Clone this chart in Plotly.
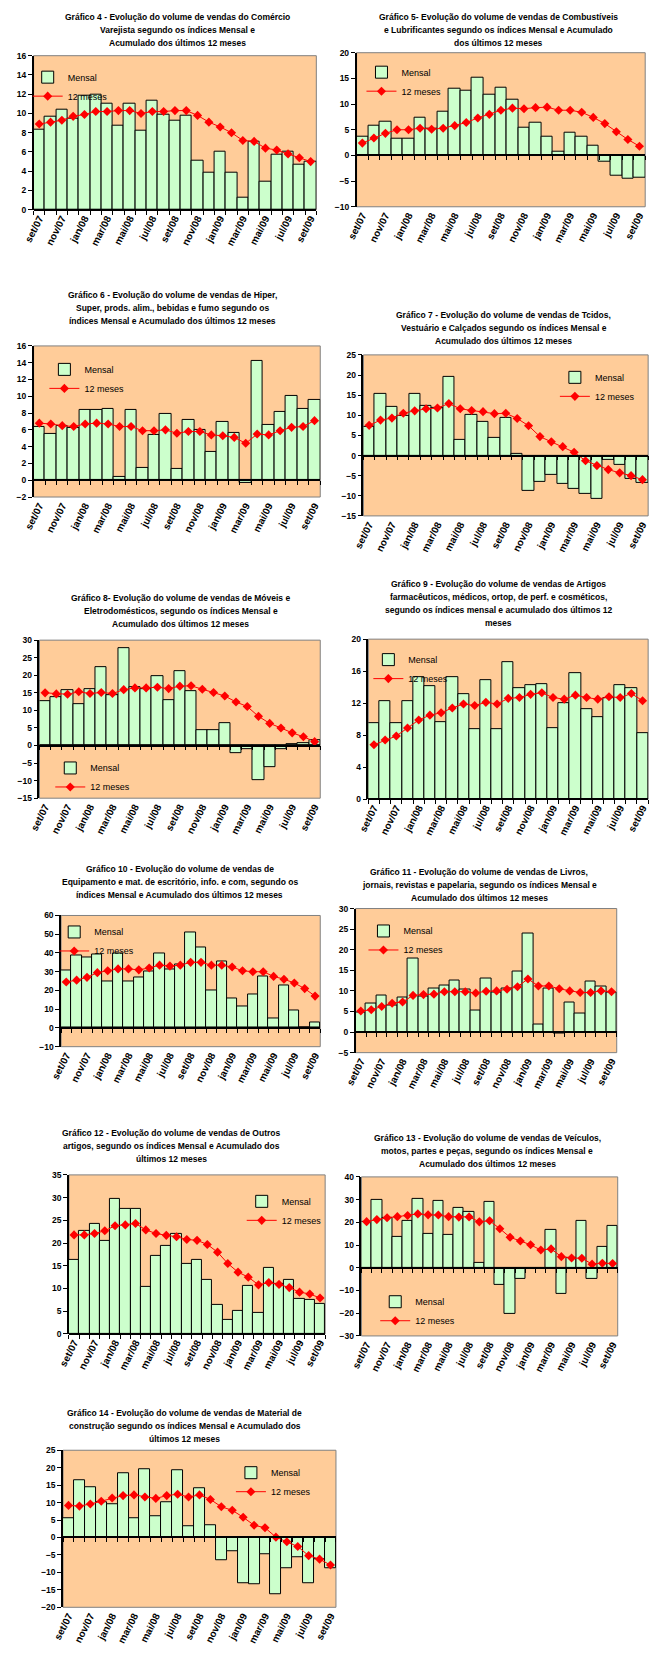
import plotly.graph_objects as go

W, H = 657, 1659

months = ["set/07", "out/07", "nov/07", "dez/07", "jan/08", "fev/08", "mar/08", "abr/08",
          "mai/08", "jun/08", "jul/08", "ago/08", "set/08", "out/08", "nov/08", "dez/08",
          "jan/09", "fev/09", "mar/09", "abr/09", "mai/09", "jun/09", "jul/09", "ago/09", "set/09"]
tick_labels = months[::2]

mensal_g4 = [8.3, 9.7, 10.4, 9.5, 11.8, 12.0, 11.0, 8.7, 11.0, 8.2, 11.3, 9.9, 9.3, 9.8, 5.1, 3.8, 6.0, 3.8, 1.3, 7.1, 2.9, 5.7, 6.0, 4.7, 5.0]
meses12_g4 = [8.9, 9.1, 9.3, 9.7, 9.9, 10.2, 10.2, 10.3, 10.3, 10.0, 10.2, 10.2, 10.3, 10.3, 9.8, 9.1, 8.6, 8.0, 7.2, 7.1, 6.4, 6.2, 5.8, 5.4, 5.0]

mensal_g5 = [3.7, 5.8, 6.6, 3.2, 3.2, 7.3, 5.2, 8.5, 13.0, 12.6, 15.2, 11.9, 13.2, 10.9, 5.3, 6.4, 3.7, 0.7, 4.5, 3.7, 1.8, -1.3, -3.9, -4.5, -4.3]
meses12_g5 = [2.4, 3.4, 4.3, 5.0, 5.0, 5.3, 5.1, 5.3, 5.8, 6.4, 7.3, 8.0, 8.8, 9.2, 9.1, 9.3, 9.4, 8.8, 8.8, 8.4, 7.4, 6.2, 4.6, 3.1, 1.8]

mensal_g6 = [6.3, 5.5, 6.5, 6.2, 8.4, 8.4, 8.5, 0.4, 8.4, 1.5, 5.4, 7.9, 1.3, 7.2, 6.0, 3.4, 7.0, 5.6, -0.3, 14.2, 6.6, 8.1, 10.1, 8.5, 9.6]
meses12_g6 = [6.8, 6.7, 6.5, 6.4, 6.7, 6.8, 6.7, 6.4, 6.4, 5.9, 5.9, 6.0, 5.6, 5.8, 5.8, 5.4, 5.3, 5.1, 4.4, 5.5, 5.4, 5.9, 6.3, 6.4, 7.1]

mensal_g7 = [7.0, 15.3, 12.1, 9.8, 15.3, 12.4, 11.8, 19.6, 3.8, 10.2, 8.4, 4.3, 9.3, 0.3, -8.8, -6.5, -4.8, -7.0, -8.4, -9.6, -10.8, -1.0, -2.2, -5.8, -6.8]
meses12_g7 = [7.5, 8.8, 9.3, 10.5, 11.1, 11.6, 11.8, 12.9, 11.6, 11.2, 10.9, 10.4, 10.5, 9.2, 7.4, 4.7, 3.4, 2.2, 0.8, -1.3, -2.5, -3.5, -4.3, -5.0, -6.0]

mensal_g8 = [12.7, 13.8, 15.7, 11.8, 16.0, 22.3, 14.3, 27.8, 16.5, 16.0, 19.8, 13.0, 21.2, 15.6, 4.4, 4.4, 6.3, -2.1, -0.9, -9.8, -6.1, -1.0, 0.3, 0.6, 1.4]
meses12_g8 = [15.0, 14.7, 14.6, 15.3, 14.8, 15.1, 14.8, 15.9, 16.4, 16.4, 16.6, 16.2, 16.9, 17.0, 16.0, 15.1, 14.1, 12.4, 11.1, 8.3, 6.3, 5.0, 3.6, 2.5, 1.1]

mensal_g9 = [9.5, 12.2, 9.5, 12.3, 15.3, 14.1, 9.6, 15.3, 13.1, 8.7, 14.9, 8.8, 17.1, 13.9, 14.2, 14.4, 8.9, 12.0, 15.8, 11.3, 10.2, 12.6, 14.2, 13.9, 8.2]
meses12_g9 = [6.8, 7.4, 7.9, 8.9, 9.9, 10.5, 10.8, 11.4, 11.9, 11.7, 12.1, 11.9, 12.6, 12.7, 13.1, 13.3, 12.7, 12.5, 13.0, 12.7, 12.5, 12.8, 12.7, 13.2, 12.3]

mensal_g10 = [30.5, 38.5, 37.5, 39.0, 25.0, 39.5, 25.0, 27.0, 30.0, 39.5, 31.0, 34.0, 51.0, 43.0, 20.0, 35.5, 15.5, 11.5, 18.0, 27.5, 5.0, 22.5, 9.5, 0.3, 3.0]
meses12_g10 = [24.5, 25.5, 27.0, 29.5, 30.5, 31.5, 31.5, 31.0, 32.0, 33.5, 33.0, 33.5, 35.0, 35.0, 33.5, 33.5, 32.5, 30.5, 30.0, 30.0, 27.5, 26.0, 24.0, 21.0, 17.0]

mensal_g11 = [4.8, 7.0, 8.9, 6.4, 8.3, 17.8, 8.7, 10.6, 11.3, 12.4, 10.3, 5.2, 12.9, 9.6, 10.5, 14.6, 24.0, 1.8, 10.6, -0.3, 7.1, 4.5, 12.2, 11.1, 9.6]
meses12_g11 = [5.1, 5.4, 6.2, 7.0, 7.3, 8.9, 9.1, 9.2, 9.8, 9.8, 9.8, 9.5, 9.9, 10.0, 10.4, 11.0, 12.9, 11.2, 11.2, 10.5, 10.0, 9.6, 9.6, 10.0, 9.8]

mensal_g12 = [16.4, 22.6, 24.2, 20.4, 29.8, 27.6, 27.6, 10.3, 17.2, 19.4, 22.1, 15.4, 16.2, 12.0, 6.3, 3.0, 5.0, 10.5, 4.6, 14.6, 11.0, 11.8, 7.8, 7.4, 6.6]
meses12_g12 = [21.8, 21.8, 22.1, 22.7, 23.8, 24.0, 24.3, 22.9, 22.1, 21.7, 21.4, 20.8, 20.6, 19.7, 18.0, 15.5, 13.6, 12.5, 10.8, 11.3, 10.9, 10.2, 9.2, 8.8, 7.9]

mensal_g13 = [20.0, 30.0, 22.0, 13.5, 20.8, 30.5, 14.8, 29.3, 14.3, 26.2, 24.5, 2.0, 28.8, -7.5, -20.2, -4.8, -0.5, -0.5, 16.8, -11.5, 4.5, 20.8, -5.0, 9.3, 18.5]
meses12_g13 = [20.3, 21.2, 22.0, 22.5, 23.0, 23.7, 23.3, 23.2, 22.5, 22.3, 22.4, 20.2, 20.7, 17.2, 13.4, 11.8, 10.1, 7.8, 8.3, 4.9, 4.3, 4.2, 1.6, 2.0, 1.9]

mensal_g14 = [5.5, 16.5, 14.5, 10.0, 9.5, 18.5, 5.5, 19.5, 6.0, 10.0, 19.3, 3.2, 14.1, 3.5, -6.5, -3.9, -13.0, -13.3, -4.9, -16.3, -8.7, -5.8, -13.0, -6.2, -8.8]
meses12_g14 = [9.2, 9.0, 9.6, 10.4, 11.3, 12.0, 12.2, 11.6, 11.2, 12.0, 12.4, 11.6, 12.2, 10.9, 8.8, 7.8, 5.8, 3.5, 2.8, 0.1, -1.2, -2.6, -5.2, -6.2, -7.9]

# layout specs (pixel geometry only)
charts = [
    dict(m=mensal_g4, a=meses12_g4, box=(23, 311, 51, 206), yr=(0, 16), dt=2,
         title=["Gráfico 4 - Evolução do volume de vendas do Comércio",
                "Varejista segundo os índices Mensal e",
                "Acumulado dos últimos 12 meses"], tcx=170, ty=12, leg=(61, 67)),
    dict(m=mensal_g5, a=meses12_g5, box=(352, 646, 48, 203), yr=(-10, 20), dt=5,
         title=["Gráfico 5- Evolução do volume de vendas de Combustíveis",
                "e Lubrificantes segundo os índices Mensal e Acumulado",
                "dos últimos 12 meses"], tcx=497, ty=12, leg=(401, 62)),
    dict(m=mensal_g6, a=meses12_g6, box=(23, 315, 343, 495), yr=(-2, 16), dt=2,
         title=["Gráfico 6 - Evolução do volume de vendas de Hiper,",
                "Super, prods. alim., bebidas e fumo segundo os",
                "índices Mensal e Acumulado dos últimos 12 meses"], tcx=165, ty=292, leg=(78, 361)),
    dict(m=mensal_g7, a=meses12_g7, box=(359, 649, 352, 514), yr=(-15, 25), dt=5,
         title=["Gráfico 7 - Evolução do volume de vendas de Tcidos,",
                "Vestuário e Calçados segundo os índices Mensal e",
                "Acumulado dos últimos 12 meses"], tcx=502, ty=312, leg=(598, 369)),
    dict(m=mensal_g8, a=meses12_g8, box=(29, 315, 639, 798), yr=(-15, 30), dt=5,
         title=["Gráfico 8- Evolução do volume de vendas de Móveis e",
                "Eletrodomésticos, segundo os índices Mensal e",
                "Acumulado dos últimos 12 meses"], tcx=173, ty=597, leg=(84, 762)),
    dict(m=mensal_g9, a=meses12_g9, box=(364, 649, 638, 799), yr=(0, 20), dt=4,
         title=["Gráfico 9 - Evolução do volume de vendas de Artigos",
                "farmacêuticos, médicos, ortop, de perf. e cosméticos,",
                "segundo os índices mensal e acumulado dos últimos 12",
                "meses"], tcx=497, ty=583, leg=(408, 653)),
    dict(m=mensal_g10, a=meses12_g10, box=(51, 315, 916, 1048), yr=(-10, 60), dt=10,
         title=["Gráfico 10 - Evolução do volume de vendas de",
                "Equipamento e mat. de escritório, info. e com, segundo os",
                "índices Mensal e Acumulado dos últimos 12 meses"], tcx=172, ty=869, leg=(88, 927)),
    dict(m=mensal_g11, a=meses12_g11, box=(351, 617, 909, 1054), yr=(-5, 30), dt=5,
         title=["Gráfico 11 - Evolução do volume de vendas de Livros,",
                "jornais, revistas e papelaria, segundo os índices Mensal e",
                "Acumulado dos últimos 12 meses"], tcx=477, ty=872, leg=(403, 926)),
    dict(m=mensal_g12, a=meses12_g12, box=(59, 320, 1177, 1337), yr=(0, 35), dt=5,
         title=["Gráfico 12 - Evolução do volume de vendas de Outros",
                "artigos, segundo os índices Mensal e Acumulado dos",
                "últimos 12 meses"], tcx=163, ty=1135, leg=(279, 1198)),
    dict(m=mensal_g13, a=meses12_g13, box=(357, 618, 1179, 1339), yr=(-30, 40), dt=10,
         title=["Gráfico 13 - Evolução do volume de vendas de Veículos,",
                "motos, partes e peças, segundo os índices Mensal e",
                "Acumulado dos últimos 12 meses"], tcx=485, ty=1140, leg=(415, 1299)),
    dict(m=mensal_g14, a=meses12_g14, box=(53, 331, 1454, 1612), yr=(-20, 25), dt=5,
         title=["Gráfico 14 - Evolução do volume de vendas de Material de",
                "construção segundo os índices Mensal e Acumulado dos",
                "últimos 12 meses"], tcx=177, ty=1417, leg=(268, 1471)),
]

FONT = "Liberation Sans, Arial, sans-serif"
N = len(charts)
xs = list(range(len(months)))

fig = go.Figure()
layout = dict(
    width=W, height=H, autosize=False,
    margin=dict(l=0, r=0, t=0, b=0),
    paper_bgcolor="white", plot_bgcolor="#FFCC99",
    bargap=0, showlegend=True,
    font=dict(family=FONT, size=8, color="black"),
)
annotations = []
shapes = []

for k, c in enumerate(charts):
    i = k + 1
    io = k + 1 + N
    sx = "" if i == 1 else str(i)
    l, r, t, b = c["box"]
    xd = [l / W, r / W]
    yd = [1 - b / H, 1 - t / H]
    ymin, ymax = c["yr"]
    legname = "legend" if i == 1 else f"legend{i}"

    fig.add_trace(go.Bar(
        x=xs, y=c["m"], xaxis=f"x{sx}", yaxis=f"y{sx}", width=1,
        marker=dict(color="#CCFFCC", line=dict(color="black", width=1)),
        name="Mensal", legend=legname, hoverinfo="y"))
    fig.add_trace(go.Scatter(
        x=xs, y=c["a"], xaxis=f"x{io}", yaxis=f"y{sx}", mode="lines+markers",
        line=dict(color="#FF0000", width=1),
        marker=dict(symbol="diamond", size=7, color="#FF0000"),
        name="12 meses", legend=legname, hoverinfo="y"))

    layout[f"xaxis{sx}"] = dict(
        domain=xd, range=[-0.5, len(months) - 0.5], anchor=f"y{sx}",
        tickmode="array", tickvals=xs[::2], ticktext=tick_labels, tickangle=-63,
        ticks="", showline=False, showgrid=False, zeroline=False,
        tickfont=dict(family=FONT, size=10, weight="bold"))
    zero_pos = yd[0] + (0 - ymin) / (ymax - ymin) * (yd[1] - yd[0])
    layout[f"xaxis{io}"] = dict(
        domain=xd, overlaying=f"x{sx}", anchor="free", position=zero_pos,
        range=[-0.5, len(months) - 0.5], tickmode="array",
        tickvals=[v - 0.5 for v in range(len(months) + 1)],
        ticks="outside", ticklen=4, tickcolor="black", showticklabels=False,
        showline=True, linecolor="black", linewidth=1.5, showgrid=False, zeroline=False)
    layout[f"yaxis{sx}"] = dict(
        domain=yd, range=[ymin, ymax], anchor=f"x{sx}", tick0=0, dtick=c["dt"],
        ticks="outside", ticklen=4, tickcolor="black", showline=True,
        linecolor="black", linewidth=1.5, showgrid=False, zeroline=False,
        tickfont=dict(family=FONT, size=8.5, weight="bold"))
    lx, ly = c["leg"]
    layout[legname] = dict(
        x=(lx - 44) / W, y=1 - (ly - 9) / H, xanchor="left", yanchor="top",
        bgcolor="rgba(0,0,0,0)", borderwidth=0, itemwidth=30,
        font=dict(family=FONT, size=9, color="black"))
    shapes.append(dict(type="rect", xref=f"x{sx} domain", yref=f"y{sx} domain",
                       x0=0, x1=1, y0=0, y1=1, line=dict(color="#808080", width=1),
                       layer="below"))
    for j, line in enumerate(c["title"]):
        annotations.append(dict(
            text=line, xref="paper", yref="paper", x=c["tcx"] / W,
            y=1 - (c["ty"] + j * 13) / H, xanchor="center", yanchor="middle",
            showarrow=False, font=dict(family=FONT, size=8.5, weight="bold", color="black")))

layout["annotations"] = annotations
layout["shapes"] = shapes
fig.update_layout(**layout)

fig.write_html("out.html", config={"displayModeBar": False},
               post_script="document.body.style.margin='0';")
